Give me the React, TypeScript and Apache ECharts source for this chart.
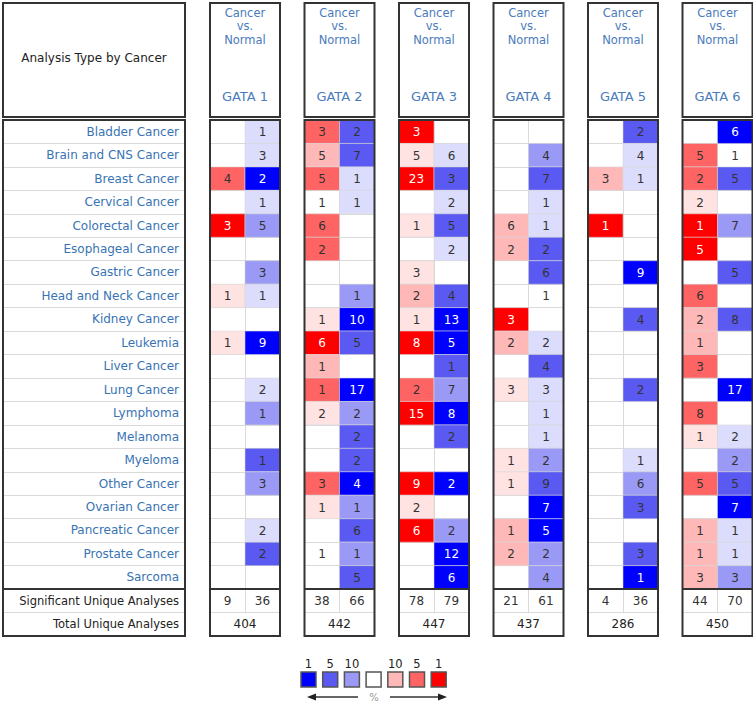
import React, { useEffect, useRef } from 'react';
import * as echarts from 'echarts';

const CANCERS = [
  'Bladder Cancer', 'Brain and CNS Cancer', 'Breast Cancer', 'Cervical Cancer', 'Colorectal Cancer',
  'Esophageal Cancer', 'Gastric Cancer', 'Head and Neck Cancer', 'Kidney Cancer', 'Leukemia',
  'Liver Cancer', 'Lung Cancer', 'Lymphoma', 'Melanoma', 'Myeloma',
  'Other Cancer', 'Ovarian Cancer', 'Pancreatic Cancer', 'Prostate Cancer', 'Sarcoma',
];
const SUMMARY_ROWS = ['Significant Unique Analyses', 'Total Unique Analyses'];
const GENES = ['GATA 1', 'GATA 2', 'GATA 3', 'GATA 4', 'GATA 5', 'GATA 6'];
const HEADER_LINES = ['Cancer', 'vs.', 'Normal'];
const CORNER_TITLE = 'Analysis Type by Cancer';

const _ = null;
// counts of significant analyses (up = red column, down = blue column) and shade 0 (white) .. 4 (strongest)
const GATA1_UP = [_, _, 4, _, 3, _, _, 1, _, 1, _, _, _, _, _, _, _, _, _, _];
const GATA1_UP_SHADE = [0, 0, 3, 0, 4, 0, 0, 1, 0, 1, 0, 0, 0, 0, 0, 0, 0, 0, 0, 0];
const GATA1_DN = [1, 3, 2, 1, 5, _, 3, 1, _, 9, _, 2, 1, _, 1, 3, _, 2, 2, _];
const GATA1_DN_SHADE = [1, 1, 4, 1, 2, 0, 2, 1, 0, 4, 0, 1, 2, 0, 3, 2, 0, 1, 3, 0];

const GATA2_UP = [3, 5, 5, 1, 6, 2, _, _, 1, 6, 1, 1, 2, _, _, 3, 1, _, 1, _];
const GATA2_UP_SHADE = [3, 2, 3, 0, 3, 3, 0, 0, 1, 4, 2, 3, 1, 0, 0, 3, 1, 0, 0, 0];
const GATA2_DN = [2, 7, 1, 1, _, _, _, 1, 10, 5, _, 17, 2, 2, 2, 4, 1, 6, 1, 5];
const GATA2_DN_SHADE = [3, 3, 1, 1, 0, 0, 0, 2, 4, 3, 0, 4, 2, 3, 3, 4, 2, 3, 2, 3];

const GATA3_UP = [3, 5, 23, _, 1, _, 3, 2, 1, 8, _, 2, 15, _, _, 9, 2, 6, _, _];
const GATA3_UP_SHADE = [4, 1, 4, 0, 1, 0, 1, 2, 1, 4, 0, 3, 4, 0, 0, 4, 1, 4, 0, 0];
const GATA3_DN = [_, 6, 3, 2, 5, 2, _, 4, 13, 5, 1, 7, 8, 2, _, 2, _, 2, 12, 6];
const GATA3_DN_SHADE = [0, 1, 3, 1, 3, 1, 0, 3, 4, 4, 3, 2, 4, 3, 0, 4, 0, 2, 4, 4];

const GATA4_UP = [_, _, _, _, 6, 2, _, _, 3, 2, _, 3, _, _, 1, 1, _, 1, 2, _];
const GATA4_UP_SHADE = [0, 0, 0, 0, 2, 2, 0, 0, 4, 2, 0, 1, 0, 0, 1, 1, 0, 2, 2, 0];
const GATA4_DN = [_, 4, 7, 1, 1, 2, 6, 1, _, 2, 4, 3, 1, 1, 2, 9, 7, 5, 2, 4];
const GATA4_DN_SHADE = [0, 2, 3, 1, 1, 3, 3, 0, 0, 1, 3, 1, 1, 1, 2, 3, 4, 4, 2, 2];

const GATA5_UP = [_, _, 3, _, 1, _, _, _, _, _, _, _, _, _, _, _, _, _, _, _];
const GATA5_UP_SHADE = [0, 0, 2, 0, 4, 0, 0, 0, 0, 0, 0, 0, 0, 0, 0, 0, 0, 0, 0, 0];
const GATA5_DN = [2, 4, 1, _, _, _, 9, _, 4, _, _, 2, _, _, 1, 6, 3, _, 3, 1];
const GATA5_DN_SHADE = [3, 1, 1, 0, 0, 0, 4, 0, 3, 0, 0, 3, 0, 0, 1, 2, 3, 0, 3, 4];

const GATA6_UP = [_, 5, 2, 2, 1, 5, _, 6, 2, 1, 3, _, 8, 1, _, 5, _, 1, 1, 3];
const GATA6_UP_SHADE = [0, 3, 3, 1, 4, 4, 0, 3, 2, 2, 3, 0, 3, 1, 0, 3, 0, 2, 2, 2];
const GATA6_DN = [6, 1, 5, _, 7, _, 5, _, 8, _, _, 17, _, 2, 2, 5, 7, 1, 1, 3];
const GATA6_DN_SHADE = [4, 0, 3, 0, 2, 0, 3, 0, 3, 0, 0, 4, 0, 1, 2, 3, 4, 1, 1, 2];

const SIG_UP = [9, 38, 78, 21, 4, 44];
const SIG_DN = [36, 66, 79, 61, 36, 70];
const TOTAL = [404, 442, 447, 437, 286, 450];

const LEGEND_LABELS = ['1', '5', '10', '', '10', '5', '1'];
const LEGEND_UNIT = '%';

const GENE_DATA = [
  [GATA1_UP, GATA1_UP_SHADE, GATA1_DN, GATA1_DN_SHADE],
  [GATA2_UP, GATA2_UP_SHADE, GATA2_DN, GATA2_DN_SHADE],
  [GATA3_UP, GATA3_UP_SHADE, GATA3_DN, GATA3_DN_SHADE],
  [GATA4_UP, GATA4_UP_SHADE, GATA4_DN, GATA4_DN_SHADE],
  [GATA5_UP, GATA5_UP_SHADE, GATA5_DN, GATA5_DN_SHADE],
  [GATA6_UP, GATA6_UP_SHADE, GATA6_DN, GATA6_DN_SHADE],
];

const RED = ['#ffffff', '#ffe3e3', '#ffb8b8', '#ff6464', '#ff0000'];
const BLUE = ['#ffffff', '#dcdcfd', '#9a9af6', '#5a5af2', '#0000ff'];
const LEGEND_COLORS = [BLUE[4], BLUE[3], BLUE[2], '#ffffff', RED[2], RED[3], RED[4]];

const FONT = 'DejaVu Sans';
const LINK = '#3873b3';
const TOP = 120;
const BODY_H = 516;
const ROW_H = BODY_H / 22;
const LEFT_X = 3;
const LEFT_W = 182;
const PANEL_X0 = 210;
const PANEL_STEP = 94.5;
const PANEL_W = 70;

const centered = { align: 'center', verticalAlign: 'middle', textAlign: 'center', textVerticalAlign: 'middle' };

export default function App() {
  const ref = useRef<HTMLDivElement>(null);
  useEffect(() => {
    document.body.style.margin = '0';
    const chart = echarts.init(ref.current!, null, { renderer: 'svg' });
    const rowsAll = [...CANCERS, ...SUMMARY_ROWS];

    const grids: any[] = [{ left: LEFT_X, top: TOP, width: LEFT_W, height: BODY_H }];
    const xAxes: any[] = [{ type: 'value', gridIndex: 0, show: false, min: 0, max: 1 }];
    const yAxes: any[] = [{
      type: 'category', gridIndex: 0, inverse: true, position: 'right',
      data: rowsAll.map((r, i) => ({
        value: r,
        textStyle: i < 20 ? { color: LINK, fontSize: 12 } : { color: '#222', fontSize: 11.5 },
      })),
      axisLine: { show: false }, axisTick: { show: false },
      axisLabel: { inside: true, margin: 6, interval: 0, fontFamily: FONT },
      splitLine: { show: true, interval: 0, lineStyle: { color: '#dadada', width: 1 } },
    }];
    const series: any[] = [];
    const graphics: any[] = [];

    // corner header
    graphics.push({ type: 'rect', shape: { x: LEFT_X, y: 3, width: LEFT_W, height: 114 }, style: { fill: 'none', stroke: '#333', lineWidth: 2 }, z: 100 });
    graphics.push({ type: 'text', x: LEFT_X + LEFT_W / 2, y: 58, style: { text: CORNER_TITLE, fill: '#222', fontSize: 12, fontFamily: FONT, ...centered }, z: 100 });
    graphics.push({ type: 'rect', shape: { x: LEFT_X, y: TOP, width: LEFT_W, height: BODY_H }, style: { fill: 'none', stroke: '#333', lineWidth: 2 }, z: 100 });
    graphics.push({ type: 'line', shape: { x1: LEFT_X, y1: TOP + 20 * ROW_H, x2: LEFT_X + LEFT_W, y2: TOP + 20 * ROW_H }, style: { stroke: '#333', lineWidth: 2 }, z: 100 });

    GENES.forEach((gene, g) => {
      const L = PANEL_X0 + g * PANEL_STEP;
      const gi = g + 1;
      grids.push({ left: L, top: TOP, width: PANEL_W, height: BODY_H });
      xAxes.push({
        type: 'category', gridIndex: gi, data: ['up', 'down'],
        axisLine: { show: false }, axisTick: { show: false }, axisLabel: { show: false, interval: 0 },
        splitLine: { show: true, interval: 0, lineStyle: { color: '#dadada', width: 1 } },
      });
      yAxes.push({
        type: 'category', gridIndex: gi, inverse: true, data: rowsAll,
        axisLine: { show: false }, axisTick: { show: false }, axisLabel: { show: false, interval: 0 },
        splitLine: { show: true, interval: 0, lineStyle: { color: '#dadada', width: 1 } },
      });
      const [up, upS, dn, dnS] = GENE_DATA[g] as any[];
      const data: any[] = [];
      for (let r = 0; r < 20; r++) {
        if (up[r] != null) data.push([0, r, up[r], upS[r], 0]);
        if (dn[r] != null) data.push([1, r, dn[r], dnS[r], 1]);
      }
      data.push([0, 20, SIG_UP[g], 0, 2]);
      data.push([1, 20, SIG_DN[g], 0, 2]);
      data.push([0, 21, TOTAL[g], 0, 3]);
      series.push({
        type: 'custom', xAxisIndex: gi, yAxisIndex: gi, data,
        renderItem: (params: any, api: any) => {
          const col = api.value(0), row = api.value(1), n = api.value(2), shade = api.value(3), kind = api.value(4);
          const size = api.size([1, 1]);
          const w = size[0], h = size[1];
          if (kind === 3) {
            const a = api.coord([0, row]);
            const b = api.coord([1, row]);
            const cx = (a[0] + b[0]) / 2;
            return {
              type: 'group', children: [
                { type: 'rect', shape: { x: a[0] - w / 2, y: a[1] - h / 2 + 0.8, width: 2 * w, height: h - 0.8 }, style: { fill: '#ffffff' } },
                { type: 'text', style: { text: String(n), x: cx, y: a[1], fill: '#222', fontSize: 12, fontFamily: FONT, ...centered } },
              ],
            };
          }
          const c = api.coord([col, row]);
          const children: any[] = [];
          if (kind < 2 && shade > 0) {
            const fill = kind === 0 ? RED[shade] : BLUE[shade];
            children.push({ type: 'rect', shape: { x: c[0] - w / 2, y: c[1] - h / 2, width: w, height: h }, style: { fill, stroke: 'rgba(215,215,215,0.55)', lineWidth: 1 } });
          }
          children.push({ type: 'text', style: { text: String(n), x: c[0], y: c[1] + 0.5, fill: kind < 2 && shade === 4 ? '#ffffff' : '#333333', fontSize: 12, fontFamily: FONT, ...centered } });
          return { type: 'group', children };
        },
      });

      // header box
      graphics.push({ type: 'rect', shape: { x: L, y: 3, width: PANEL_W, height: 114 }, style: { fill: 'none', stroke: '#333', lineWidth: 2 }, z: 100 });
      HEADER_LINES.forEach((t, k) => {
        graphics.push({ type: 'text', x: L + PANEL_W / 2, y: 12.5 + k * 13.6, style: { text: t, fill: '#4a7bbb', fontSize: 11.5, fontFamily: FONT, ...centered }, z: 100 });
      });
      graphics.push({ type: 'text', x: L + PANEL_W / 2, y: 96, style: { text: gene, fill: '#4a7bbb', fontSize: 13, fontFamily: FONT, ...centered }, z: 100 });
      // body box
      graphics.push({ type: 'rect', shape: { x: L, y: TOP, width: PANEL_W, height: BODY_H }, style: { fill: 'none', stroke: '#333', lineWidth: 2 }, z: 100 });
      graphics.push({ type: 'line', shape: { x1: L, y1: TOP + 20 * ROW_H, x2: L + PANEL_W, y2: TOP + 20 * ROW_H }, style: { stroke: '#333', lineWidth: 2 }, z: 100 });
    });

    // legend
    const LX = 301, LSTEP = 21.7, LY = 672, LS = 15;
    LEGEND_COLORS.forEach((c, i) => {
      graphics.push({ type: 'rect', shape: { x: LX + i * LSTEP, y: LY, width: LS, height: LS }, style: { fill: c, stroke: '#555', lineWidth: 1.5 }, z: 100 });
      if (LEGEND_LABELS[i]) {
        graphics.push({ type: 'text', x: LX + i * LSTEP + LS / 2, y: LY - 8.5, style: { text: LEGEND_LABELS[i], fill: '#222', fontSize: 11.5, fontFamily: FONT, ...centered }, z: 100 });
      }
    });
    const AY = 697;
    graphics.push({ type: 'line', shape: { x1: 314, y1: AY, x2: 358, y2: AY }, style: { stroke: '#333', lineWidth: 1.5 }, z: 100 });
    graphics.push({ type: 'polygon', shape: { points: [[307, AY], [316, AY - 3.5], [316, AY + 3.5]] }, style: { fill: '#222' }, z: 100 });
    graphics.push({ type: 'line', shape: { x1: 390, y1: AY, x2: 439, y2: AY }, style: { stroke: '#333', lineWidth: 1.5 }, z: 100 });
    graphics.push({ type: 'polygon', shape: { points: [[447, AY], [438, AY - 3.5], [438, AY + 3.5]] }, style: { fill: '#222' }, z: 100 });
    graphics.push({ type: 'text', x: 374, y: AY, style: { text: LEGEND_UNIT, fill: '#999', fontSize: 10, fontFamily: FONT, ...centered }, z: 100 });

    chart.setOption({
      animation: false,
      backgroundColor: '#ffffff',
      textStyle: { fontFamily: FONT },
      grid: grids,
      xAxis: xAxes,
      yAxis: yAxes,
      series,
      graphic: { elements: graphics },
    });
    return () => chart.dispose();
  }, []);
  return <div ref={ref} style={{ width: 753, height: 704 }} />;
}
